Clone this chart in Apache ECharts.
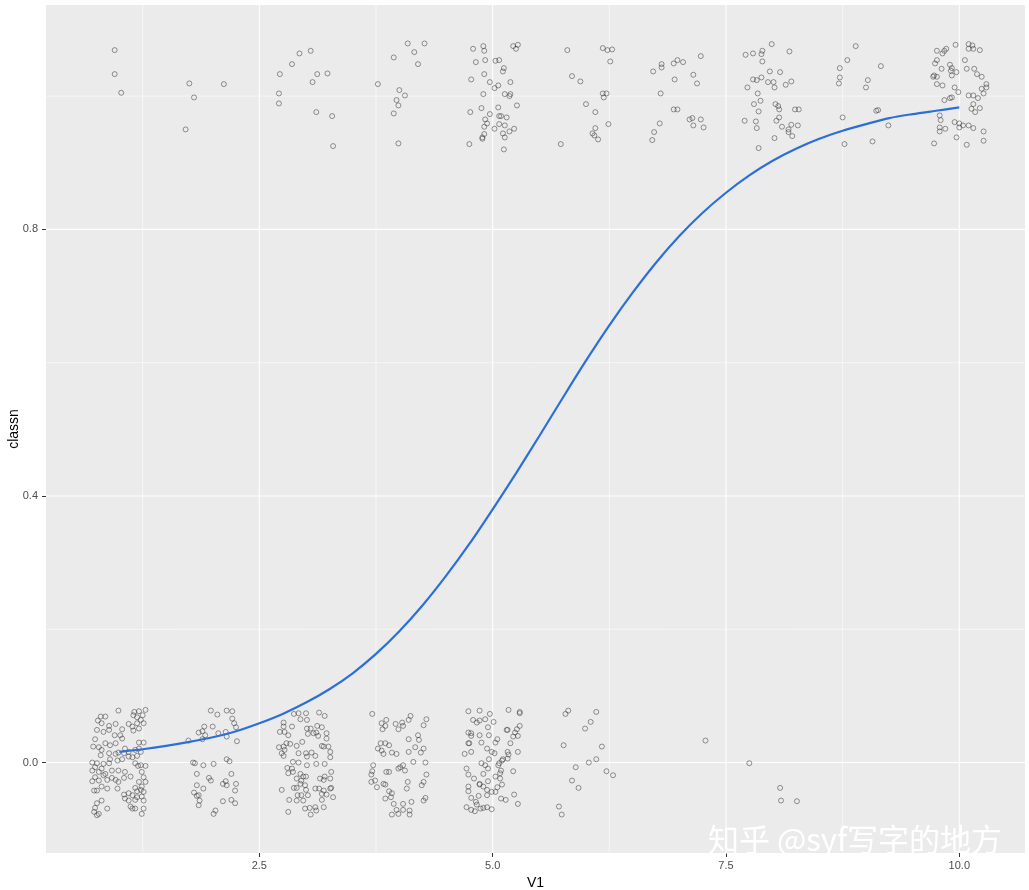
<!DOCTYPE html>
<html>
<head>
<meta charset="utf-8">
<script src="https://cdn.jsdelivr.net/npm/echarts@6/dist/echarts.min.js"></script>
<style>
html,body{margin:0;padding:0;background:#fff;}
#chart{width:1029px;height:890px;}
</style>
</head>
<body>
<div id="chart"></div>
<script>
// ---- data ----
const xTickValues = [2.5, 5, 7.5, 10];
const xTickLabels = ['2.5', '5.0', '7.5', '10.0'];
const yTickValues = [0, 0.4, 0.8];
const yTickLabels = ['0.0', '0.4', '0.8'];
const xMinorGrid = [1.25, 3.75, 6.25, 8.75];
const yMinorGrid = [0.2, 0.6, 1.0];

// class 0 (jittered, bottom band)
const class0Points = [
[0.99,0.078],[1.16,0.076],[1.21,0.077],[1.28,0.079],[0.80,0.069],[0.85,0.069],[0.77,0.063],[1.15,0.071],[1.25,0.071],[1.19,0.068],
[0.81,0.059],[0.89,0.055],[0.96,0.058],[1.10,0.058],[1.23,0.064],[1.26,0.059],[1.19,0.059],[1.14,0.054],[0.76,0.049],[0.83,0.046],
[0.89,0.049],[1.03,0.050],[1.15,0.048],[1.21,0.051],[0.95,0.041],[1.01,0.041],[1.03,0.036],[0.74,0.035],[1.26,0.030],[1.21,0.030],
[0.85,0.029],[0.90,0.026],[0.96,0.029],[0.78,0.023],[0.72,0.024],[0.81,0.019],[1.06,0.021],[1.10,0.016],[1.17,0.019],[1.21,0.021],
[0.99,0.015],[1.05,0.014],[1.23,0.016],[0.80,0.011],[0.89,0.014],[0.96,0.013],[1.10,0.009],[1.14,0.008],[1.19,0.010],[0.90,0.005],
[0.98,0.003],[1.03,0.005],[0.71,0.000],[0.76,-0.001],[0.83,-0.002],[0.89,-0.001],[0.74,-0.007],[0.81,-0.009],[1.17,-0.001],[1.23,-0.004],
[1.28,-0.005],[1.20,-0.005],[0.71,-0.012],[0.78,-0.014],[0.85,-0.017],[0.92,-0.012],[0.99,-0.012],[1.06,-0.014],[1.24,-0.014],[0.74,-0.022],
[0.83,-0.019],[0.87,-0.026],[0.92,-0.023],[0.96,-0.026],[1.05,-0.023],[1.12,-0.021],[1.26,-0.022],[0.71,-0.028],[0.78,-0.027],[0.99,-0.029],
[1.21,-0.029],[1.28,-0.029],[0.81,-0.036],[1.24,-0.036],[1.17,-0.038],[0.73,-0.042],[0.76,-0.042],[0.87,-0.039],[0.98,-0.039],[1.10,-0.046],
[1.19,-0.043],[1.23,-0.041],[1.26,-0.044],[1.05,-0.048],[1.14,-0.049],[1.19,-0.052],[1.24,-0.051],[0.81,-0.057],[0.76,-0.061],[1.06,-0.054],
[1.10,-0.057],[1.17,-0.056],[1.26,-0.057],[0.87,-0.069],[1.12,-0.066],[1.14,-0.069],[1.17,-0.069],[1.26,-0.069],[0.74,-0.068],[0.73,-0.074],
[0.78,-0.077],[0.76,-0.079],[1.24,-0.077],
[1.98,0.078],[2.05,0.072],[2.15,0.078],[2.21,0.077],[2.21,0.066],[2.23,0.059],[2.25,0.053],[1.91,0.054],[2.00,0.054],[1.85,0.045],
[1.89,0.047],[1.92,0.041],[1.89,0.035],[2.06,0.044],[2.14,0.046],[2.15,0.039],[2.26,0.032],[1.74,0.033],[1.79,0.000],[1.81,-0.001],
[1.90,-0.004],[2.01,-0.002],[2.15,0.005],[2.18,0.002],[2.20,-0.017],[1.83,-0.017],[1.96,-0.023],[1.98,-0.027],[2.11,-0.032],[2.15,-0.034],
[2.14,-0.028],[2.25,-0.032],[2.24,-0.042],[1.90,-0.039],[1.83,-0.034],[1.80,-0.045],[1.83,-0.050],[1.85,-0.049],[1.86,-0.057],[1.85,-0.064],
[2.03,-0.072],[2.01,-0.077],[2.11,-0.058],[2.20,-0.056],[2.24,-0.061],
[2.87,0.073],[2.92,0.074],[3.00,0.074],[3.14,0.075],[3.20,0.070],[2.94,0.065],[3.01,0.064],[2.76,0.060],[2.85,0.054],[2.72,0.046],
[2.77,0.046],[2.81,0.041],[2.76,0.054],[3.01,0.051],[3.05,0.051],[3.12,0.055],[3.17,0.053],[3.08,0.044],[3.11,0.045],[3.13,0.040],
[3.02,0.043],[3.22,0.044],[3.22,0.036],[2.96,0.031],[2.79,0.029],[2.76,0.024],[2.71,0.023],[2.83,0.028],[2.90,0.025],[3.17,0.025],
[3.19,0.024],[3.24,0.024],[3.26,0.016],[3.26,0.008],[2.77,0.019],[2.74,0.014],[2.76,0.010],[2.92,0.014],[3.00,0.014],[3.06,0.015],
[3.10,0.010],[3.01,0.009],[2.86,0.001],[2.92,0.000],[3.01,-0.004],[3.11,-0.002],[3.20,-0.002],[2.80,-0.008],[2.85,-0.009],[2.81,-0.016],
[2.86,-0.014],[2.94,-0.017],[2.97,-0.021],[3.00,-0.021],[3.27,-0.014],[3.20,-0.021],[3.15,-0.024],[3.19,-0.026],[3.26,-0.024],[2.90,-0.024],
[2.95,-0.027],[2.94,-0.032],[2.99,-0.034],[2.90,-0.038],[2.87,-0.038],[2.74,-0.041],[3.00,-0.041],[3.10,-0.039],[3.14,-0.039],[3.19,-0.042],
[3.26,-0.039],[3.27,-0.038],[2.91,-0.049],[2.95,-0.049],[3.02,-0.049],[3.17,-0.047],[3.22,-0.048],[3.29,-0.052],[2.82,-0.056],[2.90,-0.057],
[2.97,-0.057],[3.17,-0.056],[2.99,-0.069],[3.04,-0.068],[3.10,-0.067],[3.19,-0.067],[2.81,-0.074],[3.05,-0.078],[3.11,-0.072],
[3.71,0.073],[3.86,0.064],[3.81,0.059],[3.85,0.055],[3.82,0.050],[3.96,0.058],[4.03,0.060],[4.04,0.055],[3.99,0.050],[4.10,0.064],
[4.12,0.070],[4.26,0.056],[4.29,0.065],[4.20,0.041],[4.21,0.034],[4.10,0.035],[4.17,0.023],[4.26,0.021],[4.23,0.015],[4.10,0.016],
[3.80,0.029],[3.85,0.029],[3.89,0.026],[3.77,0.021],[3.81,0.018],[3.83,0.013],[3.92,0.015],[3.97,0.013],[4.15,0.001],[4.28,0.000],
[3.72,-0.004],[3.71,-0.013],[3.70,-0.018],[3.86,-0.014],[3.89,-0.014],[3.99,-0.009],[4.01,-0.007],[4.04,-0.004],[4.06,-0.012],[4.29,-0.018],
[3.74,-0.027],[3.70,-0.029],[3.76,-0.037],[3.83,-0.032],[3.85,-0.033],[4.09,-0.029],[4.08,-0.039],[4.26,-0.029],[4.24,-0.034],[3.89,-0.043],
[3.92,-0.046],[3.91,-0.052],[3.85,-0.054],[3.94,-0.062],[4.04,-0.062],[4.13,-0.059],[4.28,-0.053],[4.26,-0.057],[3.97,-0.071],[4.04,-0.071],
[3.92,-0.078],[3.99,-0.077],[4.11,-0.072],[4.11,-0.078],
[4.74,0.077],[4.86,0.078],[5.17,0.079],[5.29,0.076],[5.29,0.074],[4.97,0.073],[4.79,0.064],[4.83,0.060],[4.86,0.063],[4.92,0.065],
[5.01,0.061],[4.95,0.053],[5.15,0.049],[5.16,0.049],[5.24,0.045],[5.29,0.055],[5.26,0.050],[5.22,0.039],[5.27,0.040],[4.74,0.045],
[4.77,0.044],[4.77,0.040],[4.86,0.041],[4.96,0.041],[4.74,0.029],[4.75,0.029],[4.88,0.030],[5.05,0.035],[5.03,0.030],[5.19,0.029],
[4.94,0.021],[4.99,0.016],[5.02,0.014],[4.77,0.016],[4.70,0.013],[5.16,0.016],[5.17,0.012],[5.16,0.006],[5.27,0.016],[4.96,0.005],
[4.88,-0.001],[4.92,-0.004],[5.07,-0.001],[5.06,-0.004],[5.11,0.005],[5.10,0.003],[4.95,-0.009],[4.72,-0.009],[4.74,-0.018],[4.90,-0.017],
[5.09,-0.012],[5.08,-0.016],[5.22,-0.013],[4.80,-0.024],[4.86,-0.032],[4.86,-0.033],[4.95,-0.028],[5.03,-0.021],[5.08,-0.024],[4.74,-0.036],
[4.74,-0.043],[4.90,-0.036],[4.94,-0.041],[4.99,-0.044],[5.03,-0.044],[5.10,-0.033],[5.05,-0.037],[4.77,-0.053],[4.85,-0.050],[4.94,-0.049],
[5.09,-0.054],[5.14,-0.056],[5.23,-0.048],[5.27,-0.062],[4.82,-0.059],[4.83,-0.063],[4.72,-0.067],[4.77,-0.071],[4.81,-0.073],[4.87,-0.069],
[4.90,-0.068],[4.94,-0.067],[4.99,-0.070],
[5.78,0.073],[5.81,0.078],[6.11,0.076],[6.05,0.061],[5.99,0.051],[5.76,0.026],[6.17,0.024],[5.89,-0.007],[6.03,0.000],[6.11,0.005],
[5.85,-0.027],[5.92,-0.038],[6.22,-0.013],[6.29,-0.019],[5.71,-0.066],[5.74,-0.078],
[7.28,0.033],
[7.75,-0.001],[8.08,-0.038],[8.09,-0.057],[8.26,-0.058]
];

// class 1 (jittered, top band)
const class1Points = [
[0.95,1.069],[0.95,1.033],[1.02,1.005],
[1.75,1.019],[1.80,0.998],[1.71,0.950],[2.12,1.018],
[2.72,1.033],[2.85,1.048],[2.93,1.064],[3.05,1.068],[3.12,1.033],[3.23,1.034],[3.07,1.021],[2.71,1.004],[2.71,0.989],[3.11,0.976],
[3.28,0.970],[3.29,0.925],
[3.77,1.018],[3.94,1.058],[4.09,1.079],[4.16,1.066],[4.27,1.079],[4.20,1.048],[4.00,1.009],[4.06,1.001],[3.97,0.994],[3.99,0.986],
[3.94,0.974],[3.99,0.929],
[4.79,1.071],[4.90,1.075],[4.91,1.068],[4.82,1.051],[4.92,1.054],[5.03,1.053],[5.07,1.054],[5.12,1.042],[5.11,1.037],[5.22,1.075],
[5.27,1.077],[5.25,1.071],[4.91,1.033],[4.77,1.025],[4.97,1.021],[5.02,1.012],[5.06,1.016],[5.19,1.021],[4.90,1.003],[5.13,1.003],
[5.19,1.003],[5.18,1.000],[5.26,0.986],[4.76,0.976],[4.88,0.982],[5.06,0.983],[4.97,0.973],[4.92,0.965],[4.94,0.959],[4.91,0.954],
[5.07,0.970],[5.09,0.970],[5.15,0.968],[5.13,0.956],[5.07,0.958],[5.02,0.951],[5.18,0.947],[5.23,0.951],[5.11,0.944],[5.13,0.938],
[4.91,0.943],[4.89,0.938],[4.89,0.936],[4.75,0.928],[5.12,0.920],
[5.80,1.069],[5.73,0.928],[5.85,1.030],[5.94,1.022],[6.00,0.988],[6.10,0.976],[6.10,0.952],[6.07,0.944],[6.09,0.941],[6.13,0.935],
[6.24,0.958],[6.18,1.072],[6.23,1.069],[6.28,1.070],[6.26,1.052],[6.18,1.004],[6.22,1.004],[6.19,0.998],
[6.72,1.037],[6.81,1.048],[6.81,1.043],[6.94,1.049],[6.98,1.054],[6.95,1.025],[6.80,1.004],[6.94,0.980],[6.98,0.980],[6.79,0.959],
[6.73,0.946],[6.71,0.934],[7.04,1.051],[7.23,1.060],[7.15,1.032],[7.19,1.019],[7.11,0.965],[7.14,0.967],[7.23,0.965],[7.15,0.956],
[7.26,0.953],
[7.71,1.062],[7.79,1.064],[7.88,1.063],[7.89,1.068],[7.99,1.078],[8.18,1.067],[7.89,1.052],[7.79,1.025],[7.83,1.024],[7.88,1.028],
[7.97,1.037],[8.08,1.036],[7.95,1.021],[8.01,1.021],[8.02,1.013],[8.14,1.017],[8.20,1.022],[7.73,1.013],[7.84,1.004],[7.87,0.993],
[7.80,0.988],[7.85,0.977],[8.03,0.988],[8.06,0.985],[8.07,0.980],[8.24,0.980],[8.28,0.980],[7.70,0.963],[7.82,0.962],[8.07,0.968],
[7.83,0.952],[8.04,0.963],[8.10,0.954],[8.20,0.957],[8.27,0.956],[8.17,0.950],[8.17,0.946],[8.21,0.940],[8.02,0.937],[7.85,0.922],
[8.89,1.075],[8.80,1.054],[8.72,1.042],[8.72,1.028],[8.71,1.019],[9.02,1.024],[9.00,1.013],[9.16,1.045],[8.75,0.968],[8.77,0.928],
[9.11,0.978],[9.13,0.979],[9.24,0.956],[9.07,0.932],
[9.76,1.068],[9.82,1.064],[9.84,1.068],[9.86,1.071],[9.96,1.077],[10.10,1.078],[10.14,1.076],[10.10,1.071],[10.15,1.071],[10.22,1.069],
[9.76,1.054],[9.74,1.049],[9.81,1.041],[9.90,1.047],[9.92,1.042],[9.91,1.038],[9.97,1.036],[10.06,1.054],[10.08,1.041],[10.16,1.041],
[10.19,1.033],[10.24,1.029],[9.73,1.031],[9.72,1.029],[9.76,1.029],[9.92,1.031],[9.76,1.018],[9.82,1.016],[9.95,1.013],[9.99,1.006],
[10.10,1.001],[10.15,1.001],[10.20,0.997],[10.24,1.011],[10.29,1.018],[10.29,1.013],[10.26,1.004],[9.84,0.994],[9.90,0.997],[9.92,0.998],
[10.15,0.988],[10.13,0.981],[10.17,0.976],[10.22,0.982],[9.79,0.971],[9.80,0.964],[9.95,0.961],[10.00,0.959],[10.00,0.953],[10.04,0.956],
[10.10,0.956],[10.15,0.952],[9.79,0.953],[9.85,0.951],[9.79,0.947],[10.26,0.947],[9.97,0.938],[9.73,0.929],[10.08,0.927],[10.26,0.933]
];

// fitted curve
const curveX = [1, 1.25, 1.5, 1.75, 2, 2.25, 2.5, 2.75, 3, 3.25, 3.5, 3.75, 4, 4.25, 4.5, 4.75, 5, 5.25, 5.5, 5.75,
                6, 6.25, 6.5, 6.75, 7, 7.25, 7.5, 7.75, 8, 8.25, 8.5, 8.75, 9, 9.25, 9.5, 9.75, 10];
const curveY = [0.016, 0.020, 0.025, 0.031, 0.038, 0.047, 0.059, 0.073, 0.090, 0.110, 0.134, 0.163, 0.197, 0.236, 0.280, 0.328, 0.380, 0.434, 0.490, 0.547,
                0.603, 0.656, 0.705, 0.750, 0.790, 0.825, 0.855, 0.881, 0.903, 0.921, 0.936, 0.948, 0.958, 0.967, 0.973, 0.978, 0.983];

// ---- chart ----
const X_MIN = 0.214, X_MAX = 10.704, Y_MIN = -0.1357, Y_MAX = 1.1367;
const gridData = [];
xTickValues.forEach(v => gridData.push([v, 0, 1]));
xMinorGrid.forEach(v => gridData.push([v, 0, 0]));
yTickValues.forEach(v => gridData.push([v, 1, 1]));
yMinorGrid.forEach(v => gridData.push([v, 1, 0]));

const chart = echarts.init(document.getElementById('chart'), null, {renderer: 'canvas'});
const FONT = 'Liberation Sans, Arial, sans-serif';
chart.setOption({
  animation: false,
  backgroundColor: '#ffffff',
  grid: {left: 46, top: 5, right: 4, bottom: 37, containLabel: false, outerBoundsMode: 'none',
         show: true, backgroundColor: '#EBEBEB', borderWidth: 0},
  xAxis: {
    type: 'value', min: X_MIN, max: X_MAX,
    name: 'V1', nameLocation: 'middle', nameGap: 23, nameMoveOverlap: false,
    nameTextStyle: {color: '#000', fontSize: 14, fontFamily: FONT},
    axisLine: {show: false, onZero: false},
    splitLine: {show: false},
    axisTick: {show: true, length: 4, lineStyle: {color: '#333', width: 1}, customValues: xTickValues},
    axisLabel: {color: '#4D4D4D', fontSize: 11, fontFamily: FONT, margin: 7, customValues: xTickValues,
      formatter: v => xTickLabels[xTickValues.indexOf(v)] ?? ''}
  },
  yAxis: {
    type: 'value', min: Y_MIN, max: Y_MAX,
    name: 'classn', nameLocation: 'middle', nameGap: 25, nameRotate: 90, nameMoveOverlap: false,
    nameTextStyle: {color: '#000', fontSize: 14, fontFamily: FONT},
    axisLine: {show: false, onZero: false},
    splitLine: {show: false},
    axisTick: {show: true, length: 4, lineStyle: {color: '#333', width: 1}, customValues: yTickValues},
    axisLabel: {color: '#4D4D4D', fontSize: 11, fontFamily: FONT, margin: 8, customValues: yTickValues,
      formatter: v => yTickLabels[yTickValues.indexOf(v)] ?? ''}
  },
  series: [
    {
      type: 'custom', z: 1, silent: true,
      data: gridData,
      renderItem: function (params, api) {
        const v = api.value(0), isY = api.value(1), major = api.value(2);
        const cs = params.coordSys;
        let x1, y1, x2, y2;
        if (isY) {
          const p = api.coord([X_MIN, v]);
          x1 = cs.x; x2 = cs.x + cs.width; y1 = y2 = p[1];
        } else {
          const p = api.coord([v, Y_MIN]);
          y1 = cs.y; y2 = cs.y + cs.height; x1 = x2 = p[0];
        }
        return {type: 'line', shape: {x1, y1, x2, y2},
          style: {stroke: '#ffffff', lineWidth: major ? 1.1 : 0.55}};
      }
    },
    {
      type: 'scatter', z: 3, silent: true,
      symbol: 'circle', symbolSize: 5,
      data: class0Points,
      itemStyle: {color: 'rgba(0,0,0,0)', borderColor: 'rgba(50,50,50,0.8)', borderWidth: 0.8}
    },
    {
      type: 'scatter', z: 3, silent: true,
      symbol: 'circle', symbolSize: 5,
      data: class1Points,
      itemStyle: {color: 'rgba(0,0,0,0)', borderColor: 'rgba(50,50,50,0.8)', borderWidth: 0.8}
    },
    {
      type: 'line', z: 4, silent: true,
      data: curveX.map((x, i) => [x, curveY[i]]),
      smooth: 0.3, showSymbol: false,
      lineStyle: {color: '#2C6FD9', width: 2.2}
    }
  ],
  graphic: [{
    type: 'text', left: 708, top: 824, z: 100, silent: true,
    style: {
      text: '知乎 @syf写字的地方',
      font: '31px "Noto Sans CJK SC", sans-serif',
      fill: '#ffffff',
      shadowColor: 'rgba(0,0,0,0.6)', shadowBlur: 2, shadowOffsetX: 2, shadowOffsetY: 2
    }
  }]
});
</script>
</body>
</html>
